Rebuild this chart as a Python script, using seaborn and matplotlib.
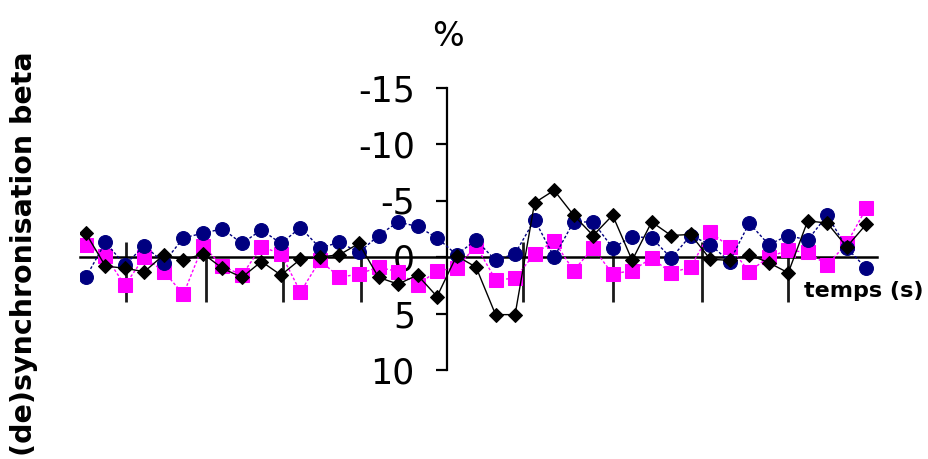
import numpy as np
import pandas as pd
import matplotlib
matplotlib.use("Agg")
import matplotlib.pyplot as plt
import seaborn as sns

# ---- data (% ; positive = downward) ----
sample = list(range(41))
black_diamonds = [-2.1, 0.8, 1.0, 1.3, -0.2, 0.3, -0.3, 1.0, 1.8, 0.4, 1.6, 0.2, 0.0, -0.2, -1.2,
                  1.8, 2.4, 1.6, 3.5, -0.1, 0.9, 5.1, 5.1, -4.8, -5.9, -3.7, -1.9, -3.7, 0.3, -3.1,
                  -1.9, -2.0, 0.2, 0.3, -0.2, 0.5, 1.4, -3.2, -3.0, -0.9, -2.9]
navy_circles = [1.8, -1.3, 0.7, -1.0, 0.5, -1.7, -2.1, -2.5, -1.2, -2.4, -1.2, -2.6, -0.8, -1.3, -0.4,
                -1.9, -3.1, -2.7, -1.7, -0.2, -1.5, 0.3, -0.3, -3.3, 0.0, -3.1, -3.1, -0.8, -1.8, -1.7,
                0.1, -1.9, -1.1, 0.4, -3.0, -1.1, -1.9, -1.5, -3.7, -0.8, 1.0]
magenta_squares = [-1.1, -0.1, 2.5, 0.0, 1.3, 3.3, -1.0, 0.8, 1.6, -0.9, -0.3, 3.1, 0.3, 1.8, 1.5,
                   0.9, 1.3, 2.5, 1.2, 1.0, -1.0, 2.0, 1.9, -0.3, -1.4, 1.2, -0.8, 1.5, 1.2, 0.1,
                   1.4, 0.9, -2.2, -0.9, 1.3, 0.0, -0.6, -0.4, 0.7, -1.2, -4.3]
y_ticks = [-15, -10, -5, 0, 5, 10]
y_tick_labels = ["-15", "-10", "-5", "0", "5", "10"]
x_tick_marks = [2.05, 6.15, 10.1, 14.1, 22.4, 27.0, 31.6, 36.0]
y_axis_at = 18.5

sns.set_style("white")
plt.rcParams["font.family"] = ["DejaVu Sans"]
plt.rcParams["axes.unicode_minus"] = False
plt.rcParams["text.color"] = "black"
plt.rcParams["ytick.color"] = "black"
plt.rcParams["ytick.labelcolor"] = "black"

fig = plt.figure(figsize=(9.29, 4.59), dpi=100)
ax = fig.add_axes([80 / 929, 1 - 370 / 459, 797 / 929, 282.5 / 459])
ax.set_facecolor("white")

df = pd.DataFrame({"t": sample, "black": black_diamonds,
                   "navy": navy_circles, "magenta": magenta_squares})

sns.lineplot(data=df, x="t", y="magenta", ax=ax, color="#FF00FF", lw=1.0,
             linestyle=(0, (2, 1.5)), marker="s", markersize=10,
             markeredgecolor="#FF00FF", markerfacecolor="#FF00FF", sort=False, zorder=3)
sns.lineplot(data=df, x="t", y="navy", ax=ax, color="#000080", lw=1.0,
             linestyle=(0, (2, 1.5)), marker="o", markersize=10,
             markeredgecolor="#000080", markerfacecolor="#000080", sort=False, zorder=4)
sns.lineplot(data=df, x="t", y="black", ax=ax, color="black", lw=1.0,
             marker="D", markersize=7.5, markeredgecolor="black",
             markerfacecolor="black", sort=False, zorder=5)

ax.set_xlim(-0.3, 40.55)
ax.set_ylim(10, -15)

for s in ["top", "right"]:
    ax.spines[s].set_visible(False)
ax.spines["left"].set_position(("data", y_axis_at))
ax.spines["bottom"].set_position(("data", 0))
ax.spines["left"].set_linewidth(1.6)
ax.spines["bottom"].set_linewidth(1.8)
ax.spines["left"].set_color("black")
ax.spines["bottom"].set_color("black")
ax.spines["left"].set_zorder(2)
ax.spines["bottom"].set_zorder(2)

ax.set_xticks([])
ax.vlines(x_tick_marks, -1.3, 4.0, color="#1a1a1a", lw=2.0, zorder=2)

ax.set_yticks(y_ticks)
ax.set_yticklabels(y_tick_labels)
ax.tick_params(axis="y", left=True, direction="out", length=8, width=1.6, pad=15,
               labelsize=25, colors="black")
ax.set_xlabel("")
ax.set_ylabel("")
ax.grid(False)

fig.text(448 / 929, 1 - 36 / 459, "%", ha="center", va="center", fontsize=24, color="black")
fig.text(864 / 929, 1 - 291 / 459, "temps (s)", ha="center", va="center",
         fontsize=16, fontweight="bold", color="black")
fig.text(24 / 929, 1 - 254 / 459, "(de)synchronisation beta", rotation=90,
         ha="center", va="center", fontsize=20.5, fontweight="bold", color="black")

fig.savefig("out.png", dpi=100, facecolor="white")
